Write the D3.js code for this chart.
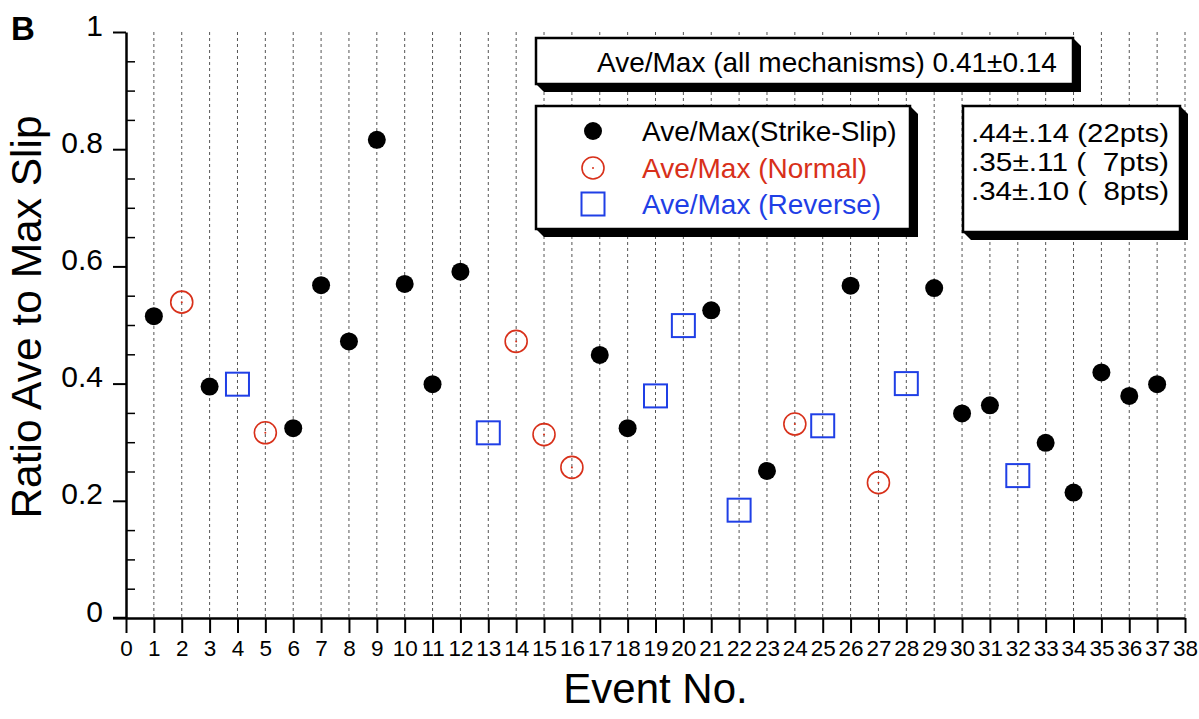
<!DOCTYPE html>
<html>
<head>
<meta charset="utf-8">
<script src="https://cdn.jsdelivr.net/npm/d3@7"></script>
<style>
  body { margin: 0; background: #fff; }
  svg { font-family: "Liberation Sans", Arial, Helvetica, sans-serif; }
  .axis path, .axis line { stroke: #000; }
  .axis text { fill: #000; font-family: "Liberation Sans", Arial, sans-serif; }
</style>
</head>
<body>
<script>
// event numbers and ratio of average to maximum slip, by mechanism
var ssEvents = [1, 3, 6, 7, 8, 9, 10, 11, 12, 17, 18, 21, 23, 26, 29, 30, 31, 33, 34, 35, 36, 37];
var ssRatio = [0.515, 0.395, 0.324, 0.568, 0.472, 0.816, 0.570, 0.399, 0.591, 0.449, 0.324, 0.525,
  0.251, 0.567, 0.563, 0.349, 0.363, 0.299, 0.214, 0.419, 0.379, 0.399];
var normalEvents = [2, 5, 14, 15, 16, 24, 27];
var normalRatio = [0.539, 0.316, 0.472, 0.313, 0.257, 0.331, 0.231];
var reverseEvents = [4, 13, 19, 20, 22, 25, 28, 32];
var reverseRatio = [0.399, 0.316, 0.379, 0.499, 0.184, 0.328, 0.400, 0.243];

var legendLabels = ['Ave/Max(Strike-Slip)', 'Ave/Max (Normal)', 'Ave/Max (Reverse)'];
var allLabel = 'Ave/Max (all mechanisms) 0.41\u00b10.14';
var statLines = ['.44\u00b1.14 (22pts)', '.35\u00b1.11 (  7pts)', '.34\u00b1.10 (  8pts)'];

var yMajor = [0, 0.2, 0.4, 0.6, 0.8, 1];
var yMinor = d3.range(1, 20).map(function(i) { return i * 0.05; })
  .filter(function(v) { return Math.abs(v * 5 - Math.round(v * 5)) > 1e-6; });

var red = '#d8301a';
var blue = '#1f3fe6';

var margin = {top: 32, right: 14, bottom: 101, left: 126};
var width = 1199 - margin.left - margin.right;
var height = 719 - margin.top - margin.bottom;

var x = d3.scaleLinear().domain([0, 38]).range([0, width]);
var y = d3.scaleLinear().domain([0, 1]).range([height, 0]);

var svg = d3.select('body').append('svg')
  .attr('width', 1199)
  .attr('height', 719);

var main = svg.append('g')
  .attr('transform', 'translate(' + margin.left + ',' + margin.top + ')');

// dashed grid at each event
main.append('g').selectAll('line')
  .data(d3.range(1, 39))
  .enter().append('line')
  .attr('x1', function(d) { return x(d); })
  .attr('x2', function(d) { return x(d); })
  .attr('y1', 0)
  .attr('y2', height)
  .attr('stroke', '#555')
  .attr('stroke-width', 1)
  .attr('stroke-dasharray', '3,3');

// x axis
var xaxis = d3.axisBottom(x).tickValues(d3.range(0, 39)).tickSize(15).tickSizeOuter(0).tickPadding(7);
var gx = main.append('g')
  .attr('class', 'axis')
  .attr('transform', 'translate(0,' + height + ')')
  .call(xaxis);
gx.select('.domain').attr('stroke-width', 2.5);
gx.selectAll('.tick line').attr('stroke-width', 2);
gx.selectAll('.tick text').style('font-size', '22.5px').attr('dy', '0.72em');
gx.append('line')
  .attr('x1', -13).attr('x2', 0)
  .attr('stroke', '#000').attr('stroke-width', 2.5);

// y axis, majors outside, minors inside
var yaxis = d3.axisLeft(y).tickValues(yMajor).tickSize(13).tickSizeOuter(0).tickPadding(10)
  .tickFormat(function(d) { return (d === 0 || d === 1) ? String(d) : d3.format('.1f')(d); });
var gy = main.append('g').attr('class', 'axis').call(yaxis);
gy.select('.domain').attr('stroke-width', 2.5);
gy.selectAll('.tick line').attr('stroke-width', 2);
gy.selectAll('.tick text').style('font-size', '30px').attr('dy', '0.1em');

var gyMinor = main.append('g').attr('class', 'axis')
  .call(d3.axisRight(y).tickValues(yMinor).tickSize(9).tickFormat(''));
gyMinor.select('.domain').remove();
gyMinor.selectAll('.tick line').attr('stroke-width', 1.5);

// axis titles
svg.append('text')
  .attr('x', margin.left + x(19))
  .attr('y', 703)
  .style('text-anchor', 'middle')
  .style('font-size', '42px')
  .text('Event No.');

svg.append('text')
  .attr('transform', 'translate(41,' + 317 + ') rotate(-90)')
  .style('text-anchor', 'middle')
  .style('font-size', '42.5px')
  .text('Ratio Ave to Max Slip');

svg.append('text')
  .attr('x', 11)
  .attr('y', 40)
  .style('font-size', '33px')
  .style('font-weight', 'bold')
  .text('B');

// boxes with drop shadow
function shadowBox(x0, y0, x1, y1) {
  var s = 8;
  svg.append('polygon')
    .attr('points', [[x1, y0], [x1 + s, y0 + s], [x1 + s, y1 + s], [x0 + s, y1 + s], [x0, y1], [x1, y1]].join(' '))
    .attr('fill', '#000');
  svg.append('rect')
    .attr('x', x0).attr('y', y0)
    .attr('width', x1 - x0).attr('height', y1 - y0)
    .attr('fill', '#fff').attr('stroke', '#000').attr('stroke-width', 2.5);
}

shadowBox(536, 38, 1073, 84);
svg.append('text')
  .attr('x', 597).attr('y', 72)
  .style('font-size', '28px')
  .text(allLabel);

shadowBox(536, 106, 910, 229);
var legendColors = ['#000', red, blue];
var legendRows = [131, 168, 204];
legendLabels.forEach(function(label, i) {
  svg.append('text')
    .attr('x', 642).attr('y', legendRows[i] + 10)
    .style('font-size', '28px')
    .attr('fill', legendColors[i])
    .text(label);
});

shadowBox(963, 106, 1180, 232);
statLines.forEach(function(line, i) {
  svg.append('text')
    .attr('x', 971).attr('y', 142 + i * 29)
    .style('font-size', '25px')
    .style('white-space', 'pre')
    .attr('xml:space', 'preserve')
    .attr('textLength', 198)
    .attr('lengthAdjust', 'spacingAndGlyphs')
    .text(line);
});

// marker drawing
function drawSS(sel) {
  sel.append('circle').attr('r', 9).attr('fill', '#000');
}
function drawNormal(sel) {
  sel.append('circle').attr('r', 11).attr('fill', 'none').attr('stroke', red).attr('stroke-width', 1.6);
  sel.append('circle').attr('r', 1).attr('fill', red);
}
function drawReverse(sel) {
  sel.append('rect').attr('x', -11.5).attr('y', -11.5).attr('width', 23).attr('height', 23)
    .attr('fill', 'none').attr('stroke', blue).attr('stroke-width', 2);
}

var series = [
  {ev: ssEvents, val: ssRatio, draw: drawSS},
  {ev: normalEvents, val: normalRatio, draw: drawNormal},
  {ev: reverseEvents, val: reverseRatio, draw: drawReverse}
];

series.forEach(function(s) {
  var pts = main.append('g').selectAll('g')
    .data(d3.zip(s.ev, s.val))
    .enter().append('g')
    .attr('transform', function(d) { return 'translate(' + x(d[0]) + ',' + y(d[1]) + ')'; });
  s.draw(pts);
});

// legend markers
series.forEach(function(s, i) {
  var g = svg.append('g').attr('transform', 'translate(593,' + legendRows[i] + ')');
  s.draw(g);
});
</script>
</body>
</html>
